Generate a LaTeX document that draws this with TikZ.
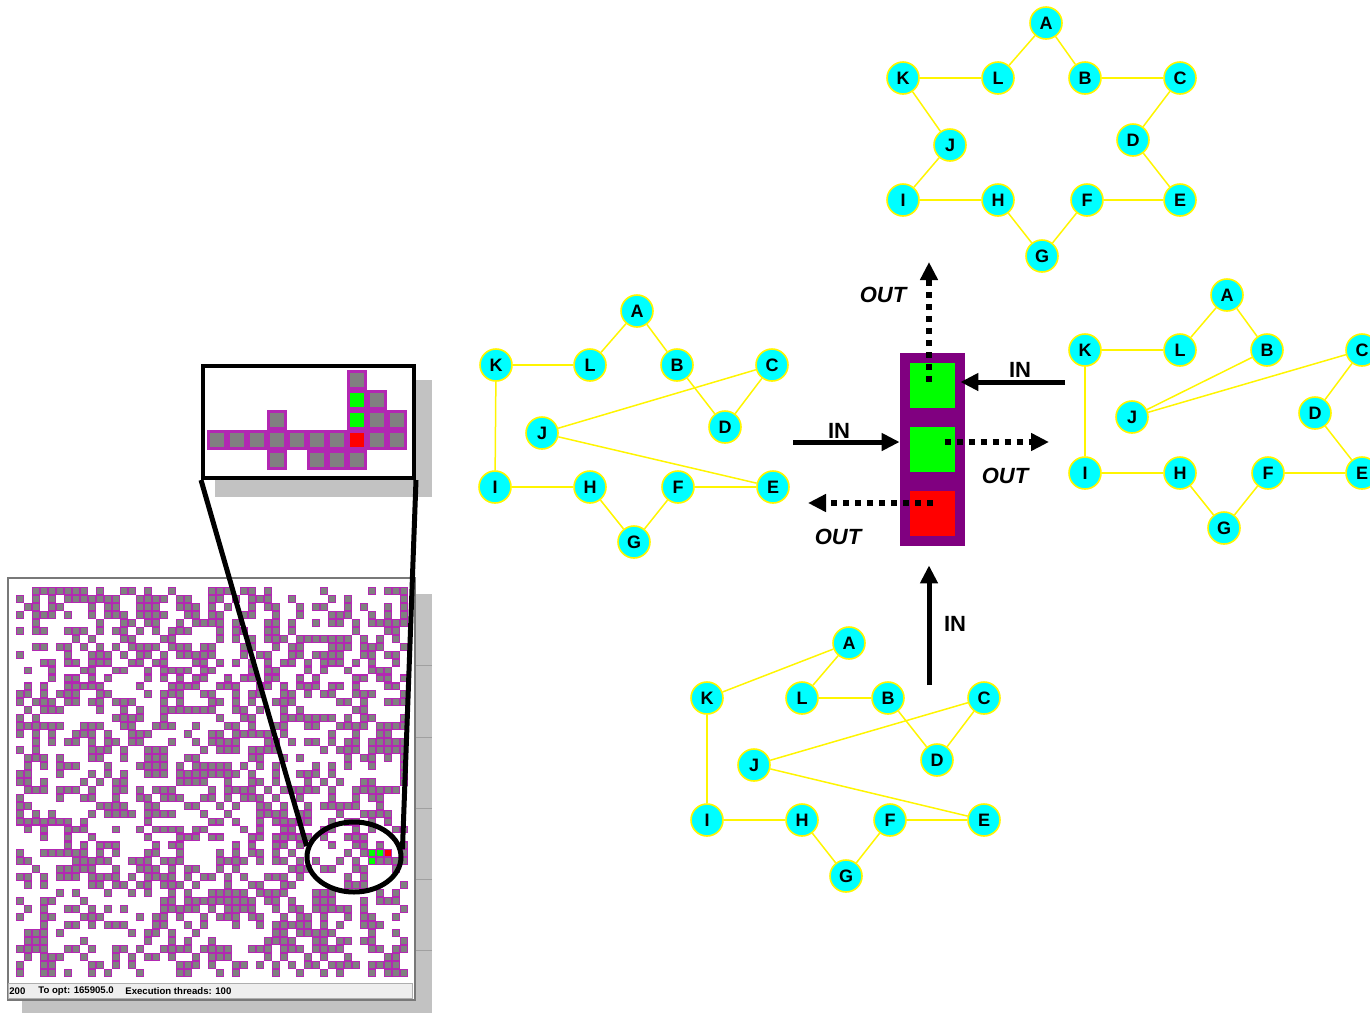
\documentclass[tikz,border=0pt]{standalone}
\usepackage{fontspec}
\setmainfont{Liberation Sans}
\usetikzlibrary{arrows.meta, shapes.geometric}
\definecolor{cellmag}{RGB}{178,40,178}
\definecolor{cellgray}{RGB}{128,128,128}
\definecolor{unitpurple}{RGB}{128,0,128}
\definecolor{vcyan}{RGB}{0,255,255}
\definecolor{eyellow}{RGB}{255,245,0}
\definecolor{okgreen}{RGB}{0,255,0}
\definecolor{badred}{RGB}{255,0,0}
\definecolor{shadowgray}{RGB}{194,194,194}
\definecolor{barfill}{RGB}{238,238,238}
\definecolor{framegray}{RGB}{120,120,120}

\begin{document}
\begin{tikzpicture}[
  x=0.5pt, y=-0.5pt,
  vert/.style={circle, draw=eyellow, line width=0.8pt, fill=vcyan, minimum size=16pt, inner sep=0pt, font=\fontsize{9}{9}\selectfont\bfseries},
  edge/.style={draw=eyellow, line width=0.75pt},
  inarr/.style={-{Triangle[length=9pt,width=8.5pt]}, line width=2.5pt},
  outarr/.style={-{Triangle[length=9pt,width=8.5pt]}, line width=3pt, dash pattern=on 3pt off 3pt},
  lbl/.style={font=\fontsize{11}{11}\selectfont\bfseries, inner sep=0pt},
  olbl/.style={lbl, font=\fontsize{11}{11}\selectfont\bfseries\itshape},
  bar/.style={font=\fontsize{4.8}{5}\selectfont\bfseries, inner sep=0pt, anchor=west},
]
\useasboundingbox (0,0) rectangle (1370,1013);
\clip (0,0) rectangle (1370,1013);

% grid window
\fill[shadowgray] (22,594) rectangle (432,1013);
\foreach \yy in {665,737,808,879,950}
  \draw[framegray!70, line width=0.4pt] (415,\yy) -- (432,\yy);
\filldraw[fill=white, draw=framegray, line width=0.7pt] (8,578) rectangle (415,1000);
\pgfmathsetseed{4711}
\foreach \i in {0,...,48}{
  \foreach \j in {0,...,48}{
    \pgfmathtruncatemacro\on{rnd<0.5}
    \ifnum\on=1
      \fill[cellmag] ({16+8*\i},{587+7.95*\j}) rectangle ++(8,7.95);
      \fill[cellgray] ({17.1+8*\i},{588.1+7.95*\j}) rectangle ++(5.8,5.8);
    \fi
  }
}
\foreach \i/\j/\c in {44/33/okgreen, 45/33/okgreen, 46/33/badred, 44/34/okgreen}{
  \fill[cellmag] ({16+8*\i},{587+7.95*\j}) rectangle ++(8,7.95);
  \fill[\c] ({17.1+8*\i},{588.1+7.95*\j}) rectangle ++(5.8,5.8);
}
\filldraw[fill=barfill, draw=framegray!60, line width=0.4pt] (8,983) rectangle (412,998);
\node[bar] (iter) at (9,991) {200};
\node[bar] (opt) at (38,991) {To opt: 165905.0};
\node[bar] (threads) at (125,991) {Execution threads: 100};

% zoomed inset
\fill[shadowgray] (215,380) rectangle (432,497);
\fill[white] (203,366) rectangle (414,478);
\foreach \i/\j/\c in {7/0/cellgray, 7/1/okgreen, 8/1/cellgray, 3/2/cellgray, 7/2/okgreen, 8/2/cellgray, 9/2/cellgray,
  0/3/cellgray, 1/3/cellgray, 2/3/cellgray, 3/3/cellgray, 4/3/cellgray, 5/3/cellgray, 6/3/cellgray, 7/3/badred, 8/3/cellgray, 9/3/cellgray,
  3/4/cellgray, 5/4/cellgray, 6/4/cellgray, 7/4/cellgray}{
  \fill[cellmag] ({207+20*\i},{370+20*\j}) rectangle ++(20,20);
}
\foreach \i/\j/\c in {7/0/cellgray, 7/1/okgreen, 8/1/cellgray, 3/2/cellgray, 7/2/okgreen, 8/2/cellgray, 9/2/cellgray,
  0/3/cellgray, 1/3/cellgray, 2/3/cellgray, 3/3/cellgray, 4/3/cellgray, 5/3/cellgray, 6/3/cellgray, 7/3/badred, 8/3/cellgray, 9/3/cellgray,
  3/4/cellgray, 5/4/cellgray, 6/4/cellgray, 7/4/cellgray}{
  \fill[\c] ({210.2+20*\i},{373.2+20*\j}) rectangle ++(13.6,13.6);
}
\node[draw, line width=2pt, minimum width=105.5pt, minimum height=56pt, inner sep=0pt] (inset) at (308.5,422) {};
\node[ellipse, draw, line width=2.5pt, minimum width=47pt, minimum height=35pt, inner sep=0pt] (lens) at (354,857) {};
\draw[line width=2.5pt] (inset.south west) -- (lens.167);
\draw[line width=2.5pt] (inset.south east) -- (lens.9);

% top graph
\foreach \n/\x/\y in {A/1046/23, K/903/78, L/998/78, B/1085/78, C/1180/78, J/950/145, D/1133/140,
  I/903/200, H/998/200, F/1087/200, E/1180/200, G/1042/256}
  \node[vert] (t\n) at (\x,\y) {\n};
\foreach \a/\b in {A/L, A/B, K/L, B/C, C/D, D/E, K/J, J/I, I/H, H/G, G/F, F/E}
  \draw[edge] (t\a) -- (t\b);

% left graph
\foreach \n/\x/\y in {A/637/311, K/496/365, L/590/365, B/677/365, C/772/365, J/542/433, D/725/427,
  I/495/487, H/590/487, F/678/487, E/773/487, G/634/542}
  \node[vert] (l\n) at (\x,\y) {\n};
\foreach \a/\b in {A/L, A/B, K/L, K/I, B/D, C/D, C/J, J/E, I/H, H/G, G/F, F/E}
  \draw[edge] (l\a) -- (l\b);

% right graph
\foreach \n/\x/\y in {A/1227/295, K/1085/350, L/1180/350, B/1267/350, C/1362/350, J/1132/417, D/1315/413,
  I/1085/473, H/1180/473, F/1268/473, E/1362/473, G/1224/528}
  \node[vert] (r\n) at (\x,\y) {\n};
\foreach \a/\b in {A/L, A/B, K/L, K/I, B/J, C/J, C/D, D/E, I/H, H/G, G/F, F/E}
  \draw[edge] (r\a) -- (r\b);

% bottom graph
\foreach \n/\x/\y in {A/849/643, K/707/698, L/802/698, B/888/698, C/984/698, J/754/765, D/937/760,
  I/707/820, H/802/820, F/890/820, E/984/820, G/846/876}
  \node[vert] (b\n) at (\x,\y) {\n};
\foreach \a/\b in {K/A, A/L, L/B, K/I, B/D, C/D, C/J, J/E, I/H, H/G, G/F, F/E}
  \draw[edge] (b\a) -- (b\b);

% cell unit
\node[fill=unitpurple, minimum width=32.5pt, minimum height=96.5pt, inner sep=0pt] (unit) at (932.5,449.5) {};
\node[fill=okgreen, minimum width=22.5pt, minimum height=22.5pt, inner sep=0pt] (sqa) at (932.5,385.5) {};
\node[fill=okgreen, minimum width=22.5pt, minimum height=22.5pt, inner sep=0pt] (sqb) at (932.5,449.5) {};
\node[fill=badred, minimum width=22.5pt, minimum height=22.5pt, inner sep=0pt] (sqc) at (932.5,513.5) {};

\coordinate (inW) at (793,442);
\coordinate (inE) at (1065,382);
\coordinate (inS) at (929,685);
\coordinate (outN) at (929,262);
\coordinate (outE) at (1049,442);
\coordinate (outW) at (808,503);

\draw[inarr] (inW) -- (inW -| unit.west);
\draw[inarr] (inE) -- ([xshift=-2.5pt]inE -| unit.east);
\draw[inarr, shorten >=9.5pt] (inS) -- (inS |- unit.south);
\draw[outarr] ([yshift=2pt]sqa.center -| outN) -- (outN);
\draw[outarr] ([xshift=6pt]sqb.center |- outE) -- (outE);
\draw[outarr] (sqc.center |- outW) -- (outW);

\node[lbl] (inWl) at (839,431) {IN};
\node[lbl] (inEl) at (1020,370) {IN};
\node[lbl] (inSl) at (955,624) {IN};
\node[olbl] (outNl) at (883,295) {OUT};
\node[olbl] (outEl) at (1005,476) {OUT};
\node[olbl] (outWl) at (838,537) {OUT};
\end{tikzpicture}
\end{document}
